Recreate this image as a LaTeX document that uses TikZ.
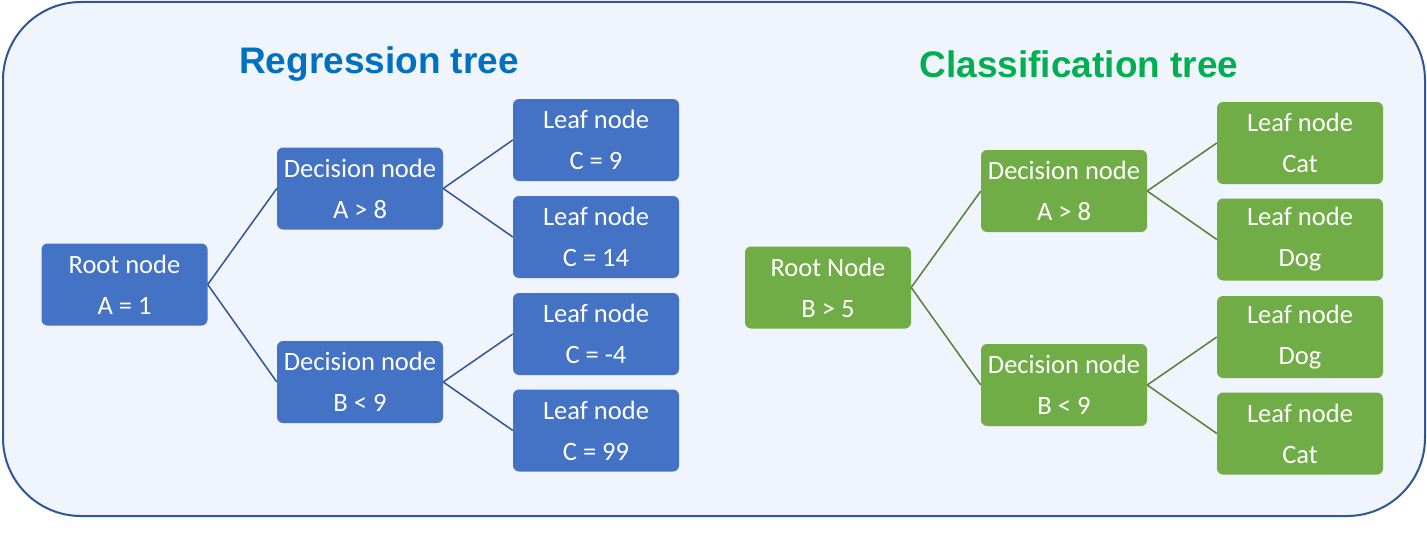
\documentclass[tikz,border=0pt]{standalone}
\usepackage{fontspec}
\setmainfont{Carlito}
\newfontfamily\titlefont{Liberation Sans}
\definecolor{bfill}{HTML}{4472C4}
\definecolor{bline}{HTML}{2F5597}
\definecolor{gfill}{HTML}{70AD47}
\definecolor{gline}{HTML}{548235}
\definecolor{bg}{HTML}{F0F4FC}
\definecolor{tblue}{HTML}{0070C0}
\definecolor{tgreen}{HTML}{00B050}
\begin{document}
\begin{tikzpicture}[x=1pt,y=-1pt,
  box/.style={rounded corners=6pt, minimum width=166pt, minimum height=82pt, inner sep=0pt,
    text=white, align=center, font=\fontsize{26.5}{41}\selectfont},
  bbox/.style={box, fill=bfill},
  gbox/.style={box, fill=gfill},
  bcon/.style={draw=bline, line width=1.5pt},
  gcon/.style={draw=gline, line width=1.5pt},
  title/.style={font=\titlefont\bfseries\fontsize{37}{44}\selectfont}
]
\useasboundingbox (0,0) rectangle (1427,543);
\draw[draw=bline, fill=bg, line width=2pt, rounded corners=78pt] (3,2) rectangle (1425,516);

\node[title, text=tblue] (rt) at (379,64) {Regression tree};
\node[title, text=tgreen] (ct) at (1079,64) {Classification tree};

% Regression tree
\node[bbox] (r0) at (124.5,284.5) {Root node\\A = 1};
\node[bbox] (r1) at (360,188.5) {Decision node\\A > 8};
\node[bbox] (r2) at (360,382) {Decision node\\B < 9};
\node[bbox] (r11) at (596,140) {Leaf node\\C = 9};
\node[bbox] (r12) at (596,237) {Leaf node\\C = 14};
\node[bbox] (r21) at (596,334) {Leaf node\\C = -4};
\node[bbox] (r22) at (596,430.5) {Leaf node\\C = 99};
\draw[bcon] (r0.east) -- (r1.west);
\draw[bcon] (r0.east) -- (r2.west);
\draw[bcon] (r1.east) -- (r11.west);
\draw[bcon] (r1.east) -- (r12.west);
\draw[bcon] (r2.east) -- (r21.west);
\draw[bcon] (r2.east) -- (r22.west);

% Classification tree
\node[gbox] (c0) at (828,287.5) {Root Node\\B > 5};
\node[gbox] (c1) at (1064,191) {Decision node\\A > 8};
\node[gbox] (c2) at (1064,385) {Decision node\\B < 9};
\node[gbox] (c11) at (1300,143) {Leaf node\\Cat};
\node[gbox] (c12) at (1300,239.5) {Leaf node\\Dog};
\node[gbox] (c21) at (1300,337) {Leaf node\\Dog};
\node[gbox] (c22) at (1300,433.5) {Leaf node\\Cat};
\draw[gcon] (c0.east) -- (c1.west);
\draw[gcon] (c0.east) -- (c2.west);
\draw[gcon] (c1.east) -- (c11.west);
\draw[gcon] (c1.east) -- (c12.west);
\draw[gcon] (c2.east) -- (c21.west);
\draw[gcon] (c2.east) -- (c22.west);
\end{tikzpicture}
\end{document}
